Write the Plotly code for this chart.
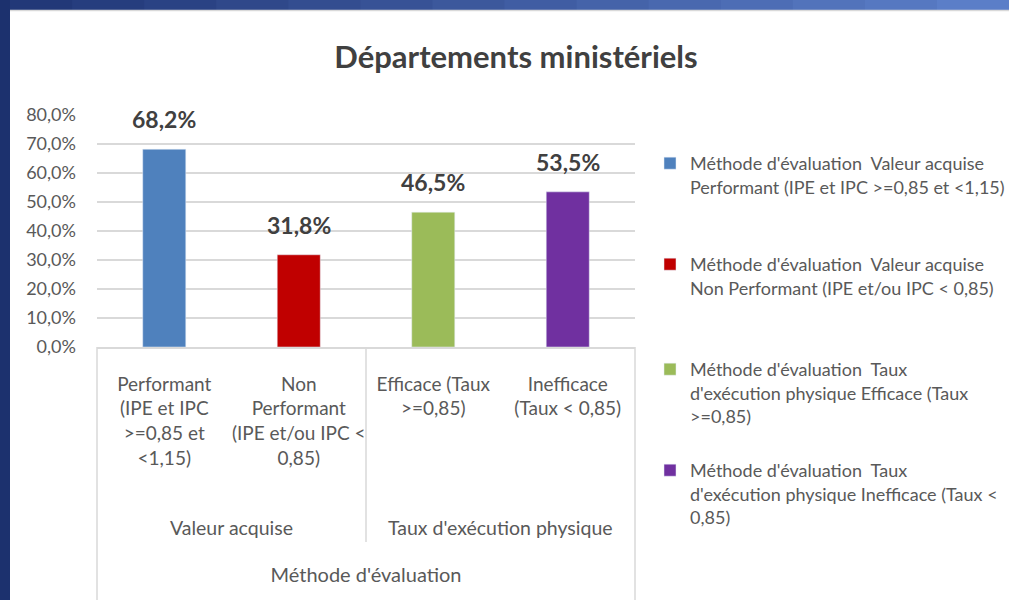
import plotly.graph_objects as go

# données du graphique
groupes = ["Valeur acquise", "Valeur acquise",
           "Taux d'exécution physique", "Taux d'exécution physique"]
categories = ["Performant<br>(IPE et IPC<br>&gt;=0,85 et<br>&lt;1,15)",
              "Non<br>Performant<br>(IPE et/ou IPC &lt;<br>0,85)",
              "Efficace (Taux<br>&gt;=0,85)",
              "Inefficace<br>(Taux &lt; 0,85)"]
valeurs = [0.682, 0.318, 0.465, 0.535]
legendes = ["Méthode d'évaluation  Valeur acquise<br>Performant (IPE et IPC &gt;=0,85 et &lt;1,15)",
            "Méthode d'évaluation  Valeur acquise<br>Non Performant (IPE et/ou IPC &lt; 0,85)",
            "Méthode d'évaluation  Taux<br>d'exécution physique Efficace (Taux<br>&gt;=0,85)",
            "Méthode d'évaluation  Taux<br>d'exécution physique Inefficace (Taux &lt;<br>0,85)"]
couleurs = ["#4F81BD", "#C00000", "#9BBB59", "#7030A0"]
y_ticks = [0, 0.1, 0.2, 0.3, 0.4, 0.5, 0.6, 0.7, 0.8]
titre = "Départements ministériels"
titre_axe = "Méthode d'évaluation"

W, H = 1009, 600
ML, MR, MT, MB = 97, 374, 115, 253
FONT = "Lato, 'Open Sans', sans-serif"
GRIS = "#d9d9d9"


def px_x(p):
    return (p - ML) / (W - ML - MR)


def px_y(q):
    return (H - MB - q) / (H - MT - MB)


fig = go.Figure()
noms_legende = ["legend", "legend2", "legend3", "legend4"]
for i in range(len(valeurs)):
    fig.add_trace(go.Bar(
        x=[categories[i]],
        y=[valeurs[i]],
        name=legendes[i],
        marker_color=couleurs[i],
        width=0.32,
        legend=noms_legende[i],
        hovertemplate="%{y:.1%}<extra></extra>",
    ))
    fig.add_annotation(x=categories[i], y=valeurs[i], xref="x", yref="y",
                       text="<b>%s</b>" % ("{:.1f}%".format(valeurs[i] * 100).replace(".", ",")),
                       showarrow=False, yanchor="bottom", yshift=14,
                       font=dict(size=23, color="#404040"))

# étiquettes de groupe (deuxième niveau de l'axe)
shapes = []
debut = 0
for i in range(1, len(groupes) + 1):
    if i == len(groupes) or groupes[i] != groupes[debut]:
        fig.add_annotation(x=(debut + i - 1) / 2, y=px_y(527), xref="x", yref="paper",
                           text=groupes[debut], showarrow=False, yanchor="middle",
                           font=dict(size=19.5, color="#595959"))
        if i < len(groupes):
            shapes.append(dict(type="line", xref="x", yref="paper",
                               x0=i - 0.5, x1=i - 0.5, y0=0, y1=px_y(542),
                               line=dict(color=GRIS, width=1.5)))
        debut = i

# cadre bleu de la diapositive
n = 14
for k in range(n):
    t = k / (n - 1)
    r = int(0x22 + (0x5b - 0x22) * t)
    g = int(0x38 + (0x7e - 0x38) * t)
    b = int(0x78 + (0xc8 - 0x78) * t)
    shapes.append(dict(type="rect", xref="paper", yref="paper", layer="below",
                       x0=px_x(W * k / n), x1=px_x(W * (k + 1) / n + 1),
                       y0=px_y(10), y1=px_y(0), line_width=0,
                       fillcolor="rgb(%d,%d,%d)" % (r, g, b)))
shapes.append(dict(type="rect", xref="paper", yref="paper", layer="below",
                   x0=px_x(0), x1=px_x(10), y0=px_y(H), y1=px_y(0),
                   line_width=0, fillcolor="#1c316e"))
shapes.append(dict(type="line", xref="paper", yref="paper", layer="below",
                   x0=px_x(10), x1=px_x(W), y0=px_y(10.5), y1=px_y(10.5),
                   line=dict(color=GRIS, width=1.5)))
# bords extérieurs de l'axe des catégories
for xp in [0, 1]:
    shapes.append(dict(type="line", xref="paper", yref="paper",
                       x0=xp, x1=xp, y0=0, y1=px_y(H),
                       line=dict(color=GRIS, width=1.5)))

legende_y = [145, 246, 351, 452]
legendes_layout = {}
for i, nom in enumerate(noms_legende):
    legendes_layout[nom] = dict(x=px_x(650), y=px_y(legende_y[i]), xanchor="left", yanchor="top",
                                valign="top", bgcolor="rgba(0,0,0,0)",
                                font=dict(size=18, color="#595959"))

fig.update_layout(
    width=W, height=H,
    margin=dict(l=ML, r=MR, t=MT, b=MB, autoexpand=False),
    paper_bgcolor="white", plot_bgcolor="white",
    separators=", ",
    barmode="overlay",
    font=dict(family=FONT, color="#595959", size=18),
    title=dict(text="<b>%s</b>" % titre, x=516 / W, xanchor="center",
               y=1 - 57 / H, yanchor="middle", yref="container",
               font=dict(size=31, color="#404040")),
    xaxis=dict(type="category", showline=True, linecolor=GRIS, linewidth=1.5,
               tickangle=0, automargin=False, ticklabelstandoff=19,
               tickfont=dict(size=19, color="#595959"),
               title=dict(text=titre_axe, font=dict(size=20, color="#595959"), standoff=100)),
    yaxis=dict(range=[0, 0.8], tickvals=y_ticks, tickformat=".1%", automargin=False,
               gridcolor=GRIS, gridwidth=1.5, zeroline=False, showline=False,
               ticklabelstandoff=20, tickfont=dict(size=18, color="#595959")),
    shapes=shapes,
    showlegend=True,
    **legendes_layout,
)

fig.write_html("out.html", config={"displayModeBar": False},
               post_script="document.body.style.margin='0';")
